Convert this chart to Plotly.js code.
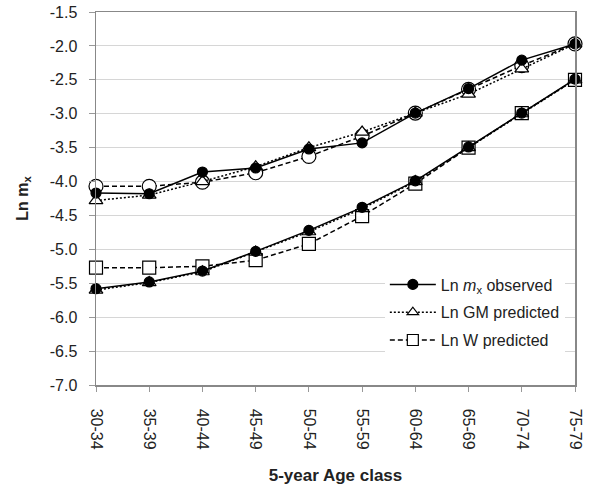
<!DOCTYPE html>
<html>
<head>
<meta charset="utf-8">
<script src="https://cdn.plot.ly/plotly-3.0.1.min.js"></script>
<style>html,body{margin:0;padding:0;background:#fff;}#chart{width:601px;height:489px;}</style>
</head>
<body>
<div id="chart"></div>
<script>
const ageClasses = ["30-34","35-39","40-44","45-49","50-54","55-59","60-64","65-69","70-74","75-79"];

// Upper group
const upperObserved = [-4.17, -4.18, -3.86, -3.80, -3.52, -3.43, -2.99, -2.63, -2.21, -1.97];
const upperGM       = [-4.28, -4.20, -4.00, -3.78, -3.50, -3.27, -2.99, -2.71, -2.34, -1.97];
const upperW        = [-4.07, -4.07, -4.01, -3.87, -3.63, -3.33, -2.99, -2.64, -2.29, -1.97];

// Lower group
const lowerObserved = [-5.58, -5.48, -5.32, -5.03, -4.72, -4.38, -3.99, -3.49, -2.99, -2.49];
const lowerGM       = [-5.60, -5.49, -5.33, -5.04, -4.74, -4.40, -4.00, -3.50, -3.00, -2.50];
const lowerW        = [-5.27, -5.27, -5.25, -5.16, -4.92, -4.51, -4.03, -3.50, -2.99, -2.50];

const yTickVals = [-7.0,-6.5,-6.0,-5.5,-5.0,-4.5,-4.0,-3.5,-3.0,-2.5,-2.0,-1.5];
const yTickText = ["-7.0","-6.5","-6.0","-5.5","-5.0","-4.5","-4.0","-3.5","-3.0","-2.5","-2.0","-1.5"];

const legendNames = ["Ln <i>m</i><sub>x</sub> observed", "Ln GM predicted", "Ln W predicted"];

const black = "#000";
const DASH = "5px,3px";
const DOT = "2px,2px";
function tr(y, name, dash, symbol, fill, size, showlegend, group) {
  return {
    x: ageClasses, y: y, type: "scatter", mode: "lines+markers",
    name: name, legendgroup: group, showlegend: showlegend,
    line: {color: black, width: 1.5, dash: dash},
    marker: {symbol: symbol, size: size, color: fill, line: {color: black, width: 1.2}},
    cliponaxis: false
  };
}

const data = [
  tr(upperW, legendNames[2], DASH, "circle", "#fff", 14, false, "w"),
  tr(upperGM, legendNames[1], DOT, "triangle-up", "#fff", 12, false, "gm"),
  tr(upperObserved, legendNames[0], "solid", "circle", black, 10, false, "obs"),
  tr(lowerW, legendNames[2], DASH, "square", "#fff", 13, false, "w"),
  tr(lowerGM, legendNames[1], DOT, "triangle-up", "#fff", 12, false, "gm"),
  tr(lowerObserved, legendNames[0], "solid", "circle", black, 10, false, "obs"),
  // legend entries
  Object.assign(tr([null], legendNames[0], "solid", "circle", black, 10, true, "obs"), {x:[ageClasses[0]]}),
  Object.assign(tr([null], legendNames[1], DOT, "triangle-up", "#fff", 10, true, "gm"), {x:[ageClasses[0]]}),
  Object.assign(tr([null], legendNames[2], DASH, "square", "#fff", 11, true, "w"), {x:[ageClasses[0]]})
];

const layout = {
  width: 601, height: 489,
  margin: {l: 96, r: 26, t: 12, b: 104},
  paper_bgcolor: "#fff", plot_bgcolor: "#fff",
  font: {family: "Liberation Sans, Arial, sans-serif", color: "#222", size: 16},
  showlegend: true,
  legend: {
    x: 0.603, y: 0.315, xanchor: "left", yanchor: "top",
    bgcolor: "#fff", borderwidth: 0, tracegroupgap: 4, itemwidth: 46,
    font: {size: 16, color: "#222"}
  },
  xaxis: {
    type: "category", range: [0, 9],
    tickangle: 90, ticks: "outside", ticklen: 5, tickcolor: "#999",
    ticklabelstandoff: 14,
    showgrid: false, showline: true, linecolor: "#888", linewidth: 1.5, mirror: true,
    tickfont: {size: 16, color: "#222"},
    title: {text: "<b>5-year Age class</b>", font: {size: 17, color: "#222"}, standoff: 20},
    zeroline: false
  },
  yaxis: {
    range: [-7, -1.5], tickvals: yTickVals, ticktext: yTickText,
    ticks: "outside", ticklen: 6, tickcolor: "#999",
    ticklabelstandoff: 8,
    showgrid: true, gridcolor: "#d6d6d6", gridwidth: 1,
    showline: true, linecolor: "#888", linewidth: 1.5, mirror: true,
    zeroline: false,
    tickfont: {size: 16, color: "#222"},
    title: {text: "<b>Ln m<sub>x</sub></b>", font: {size: 16, color: "#222"}, standoff: 17}
  }
};

Plotly.newPlot("chart", data, layout, {displayModeBar: false, staticPlot: true});
</script>
</body>
</html>
